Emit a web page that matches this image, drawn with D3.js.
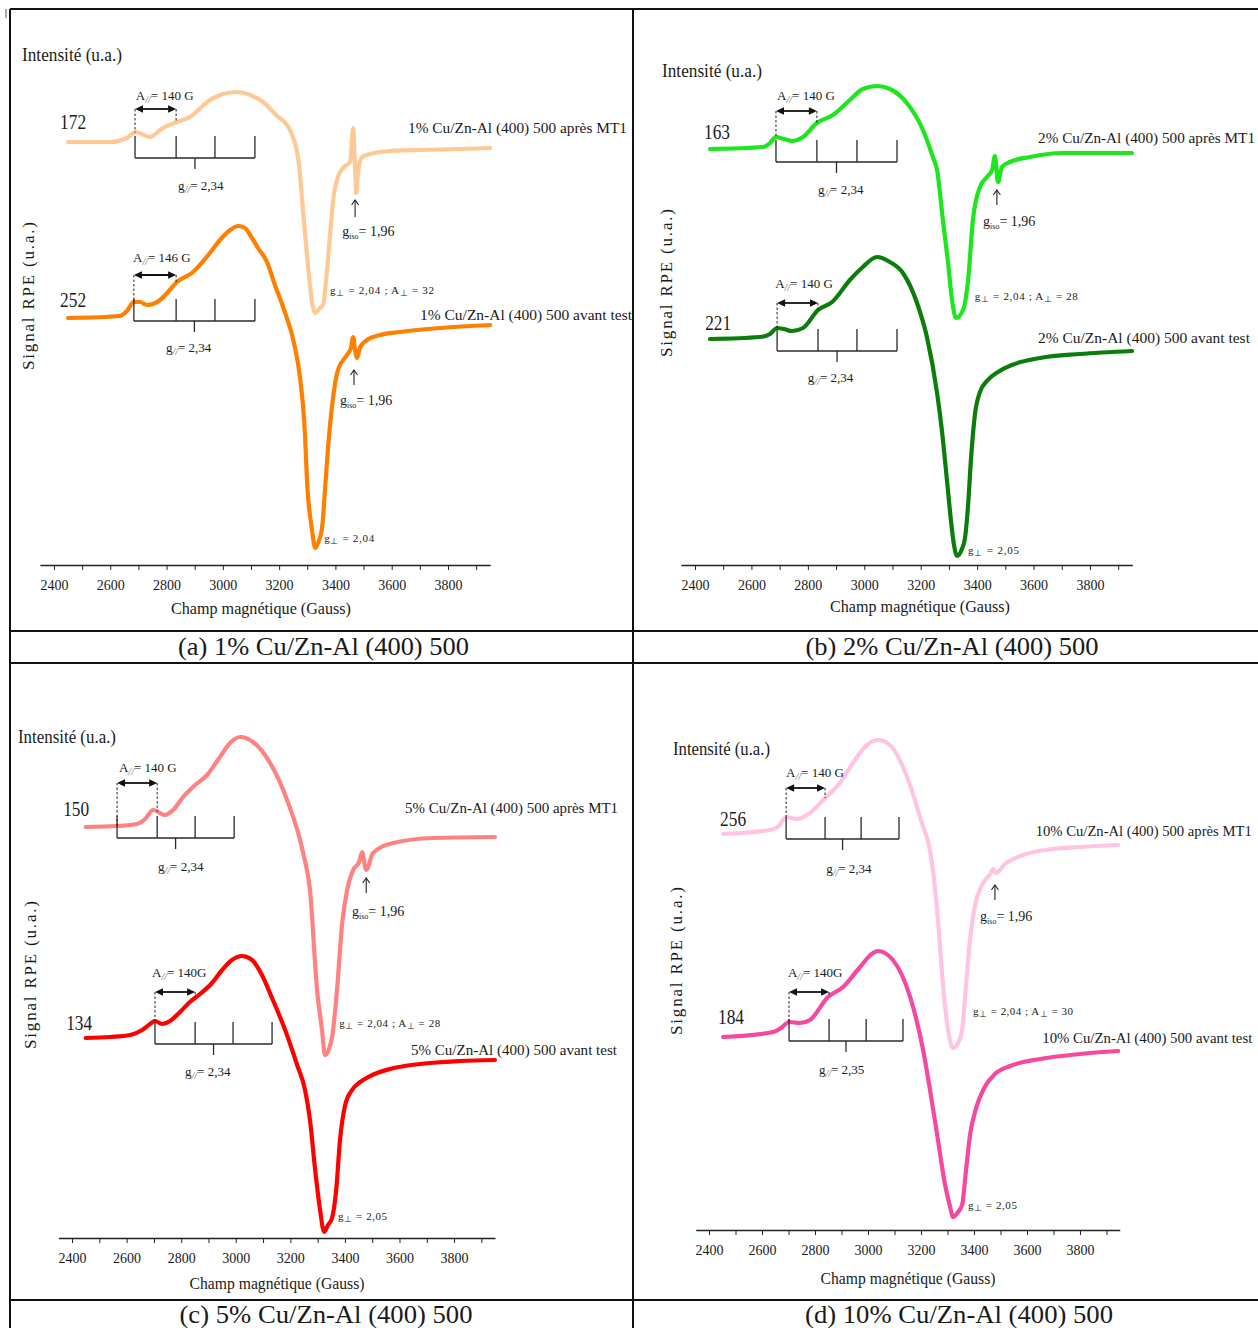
<!DOCTYPE html>
<html><head><meta charset="utf-8">
<script src="https://cdn.jsdelivr.net/npm/d3@7/dist/d3.min.js"></script>
<style>
html,body{margin:0;padding:0;background:#fff}
text{font-family:"Liberation Serif","Times New Roman",Times,serif;fill:#1a1a1a}
</style></head><body>
<svg id="chart" width="1258" height="1328" xmlns="http://www.w3.org/2000/svg"></svg>
<script>
// ================= DATA =================
const fieldTicks = [2400,2500,2600,2700,2800,2900,3000,3100,3200,3300,3400,3500,3600,3700,3800,3900];
const fieldTickLabels = ["2400","2600","2800","3000","3200","3400","3600","3800"];
const xTitle = "Champ magnétique (Gauss)";
const yTitle = "Signal RPE (u.a.)";
const intensityTitle = "Intensité (u.a.)";
const panelTitles = ["(a) 1% Cu/Zn-Al (400) 500","(b) 2% Cu/Zn-Al (400) 500","(c) 5% Cu/Zn-Al (400) 500","(d) 10% Cu/Zn-Al (400) 500"];

const seriesNames = [
  "1% Cu/Zn-Al (400) 500 après MT1","1% Cu/Zn-Al (400) 500 avant test",
  "2% Cu/Zn-Al (400) 500 après MT1","2% Cu/Zn-Al (400) 500 avant test",
  "5% Cu/Zn-Al (400) 500 après MT1","5% Cu/Zn-Al (400) 500 avant test",
  "10% Cu/Zn-Al (400) 500 après MT1","10% Cu/Zn-Al (400) 500 avant test"];
const sampleNumbers = ["172","252","163","221","150","134","256","184"];
const aParText = ["= 140 G","= 146 G","= 140 G","= 140 G","= 140 G","= 140G","= 140 G","= 140G"];
const gParText = ["= 2,34","= 2,34","= 2,34","= 2,34","= 2,34","= 2,34","= 2,34","= 2,35"];
const gIsoText = ["= 1,96","= 1,96","= 1,96",null,"= 1,96",null,"= 1,96",null];
const gPerpText = ["g⊥ = 2,04 ; A⊥ = 32","g⊥ = 2,04","g⊥ = 2,04 ; A⊥ = 28","g⊥ = 2,05",
                   "g⊥ = 2,04 ; A⊥ = 28","g⊥ = 2,05","g⊥ = 2,04 ; A⊥ = 30","g⊥ = 2,05"];

// spectra: [field (G), signal (u.a.)]
const curveA_apres = [[2450,423],[2599,423],[2659,427],[2691,433],[2741,428],[2787,437],[2837,443],[2883,448],[2954,465],[3001,471],[3050,473],[3097,470],[3143,463],[3193,449],[3228,440],[3249,428],[3267,408],[3292,332],[3320,258],[3328,252],[3345,257],[3356,260],[3367,285],[3381,330],[3392,365],[3409,388],[3427,397],[3452,403],[3463,437],[3470,395],[3474,372],[3480,392],[3495,408],[3523,411],[3594,414],[3701,415],[3843,416],[3950,417]];
const curveA_avant = [[2450,247],[2635,249],[2659,254],[2684,263],[2706,263],[2731,260],[2777,265],[2805,273],[2837,283],[2890,292],[2954,312],[2990,325],[3026,335],[3054,339],[3079,337],[3097,330],[3125,317],[3157,303],[3185,280],[3214,258],[3256,218],[3274,188],[3292,130],[3299,85],[3317,35],[3328,17],[3338,22],[3353,38],[3363,75],[3374,118],[3392,168],[3409,195],[3441,210],[3455,217],[3463,228],[3470,215],[3477,207],[3488,218],[3512,225],[3559,230],[3630,233],[3772,237],[3950,240]];
const curveB_apres = [[2453,416],[2641,418],[2666,422],[2687,428],[2715,426],[2744,424],[2783,428],[2832,442],[2889,450],[2949,465],[2995,476],[3045,479],[3091,476],[3151,462],[3208,435],[3243,408],[3258,395],[3279,344],[3297,302],[3311,265],[3325,247],[3350,255],[3368,285],[3385,345],[3410,378],[3435,388],[3453,395],[3463,409],[3474,383],[3488,398],[3516,403],[3587,408],[3704,412],[3949,412]];
const curveB_avant = [[2453,226],[2630,228],[2666,231],[2691,237],[2715,236],[2744,234],[2783,237],[2836,255],[2886,263],[2949,285],[2995,298],[3045,308],[3091,303],[3137,292],[3187,262],[3222,228],[3258,172],[3275,135],[3293,85],[3307,45],[3318,20],[3329,9],[3346,16],[3357,27],[3368,60],[3378,105],[3392,150],[3410,173],[3438,185],[3474,193],[3523,200],[3623,207],[3764,211],[3949,214]];
const curveC_apres = [[2450,411],[2565,412],[2638,414],[2668,419],[2697,428],[2741,423],[2770,428],[2807,441],[2851,453],[2895,463],[2942,481],[2979,495],[3016,501],[3063,496],[3126,475],[3188,438],[3247,385],[3272,348],[3298,248],[3316,208],[3327,183],[3353,201],[3371,248],[3390,315],[3408,348],[3430,368],[3452,376],[3463,386],[3478,368],[3503,385],[3576,395],[3723,400],[3950,401]];
const curveC_avant = [[2450,200],[2539,201],[2613,203],[2657,208],[2686,214],[2704,217],[2730,214],[2759,217],[2796,226],[2832,236],[2869,244],[2913,255],[2950,268],[2986,278],[3023,282],[3060,278],[3096,263],[3133,240],[3181,208],[3225,173],[3254,148],[3272,118],[3291,68],[3309,28],[3324,6],[3338,13],[3353,20],[3368,48],[3382,98],[3401,133],[3426,148],[3456,156],[3500,163],[3565,169],[3675,174],[3822,177],[3950,178]];
const curveD_apres = [[2453,396],[2630,400],[2664,404],[2691,413],[2732,411],[2781,417],[2838,432],[2894,447],[2943,467],[2996,485],[3038,490],[3083,485],[3132,463],[3196,413],[3245,360],[3264,310],[3283,245],[3302,200],[3321,182],[3340,187],[3355,200],[3370,245],[3385,290],[3404,325],[3430,345],[3461,356],[3472,361],[3483,357],[3517,366],[3574,374],[3668,380],[3800,383],[3944,385]];
const curveD_avant = [[2453,193],[2642,198],[2672,202],[2702,208],[2743,207],[2781,210],[2849,233],[2906,243],[2970,263],[3019,277],[3038,279],[3094,270],[3159,233],[3208,180],[3234,140],[3264,90],[3291,45],[3310,23],[3321,13],[3340,18],[3355,25],[3370,60],[3385,95],[3408,122],[3438,142],[3479,156],[3536,164],[3649,171],[3800,176],[3944,179]];

const curves = [curveA_apres,curveA_avant,curveB_apres,curveB_avant,curveC_apres,curveC_avant,curveD_apres,curveD_avant];

// annotation anchors in data units (field G, signal u.a.)
const annotationAnchors = [
  {num:[2468,436], hf:[2691,465], arrow:456, ticks:[2688,2834,2972,3114], bracket:407, gpar:[2841,375], iso:[3470,348,365,3424,329], perp:[3381,271], label:[4436,432]},
  {num:[2468,258], hf:[2681,303], arrow:290, ticks:[2684,2834,2972,3114], bracket:244, gpar:[2798,213], iso:[3466,180,195,3416,160], perp:[3360,23], label:[4454,245]},
  {num:[2478,426], hf:[2691,465], arrow:454, ticks:[2687,2832,2974,3116], bracket:403, gpar:[2836,371], iso:[3470,360,375,3421,339], perp:[3392,265], label:[4385,422]},
  {num:[2482,235], hf:[2684,277], arrow:262, ticks:[2691,2836,2974,3116], bracket:214, gpar:[2800,183], iso:null, perp:[3368,11], label:[4367,222]},
  {num:[2415,422], hf:[2572,466], arrow:455, ticks:[2565,2712,2851,2994], bracket:400, gpar:[2715,367], iso:[3478,345,360,3426,322], perp:[3379,211], label:[4401,425]},
  {num:[2426,208], hf:[2693,261], arrow:246, ticks:[2704,2851,2990,3133], bracket:194, gpar:[2814,162], iso:null, perp:[3375,18], label:[4397,183]},
  {num:[2491,404], hf:[2691,453], arrow:442, ticks:[2691,2838,2974,3117], bracket:391, gpar:[2842,357], iso:[3479,330,345,3423,309], perp:[3396,215], label:[4448,394]},
  {num:[2483,206], hf:[2698,253], arrow:238, ticks:[2702,2853,2993,3132], bracket:189, gpar:[2815,156], iso:null, perp:[3377,21], label:[4450,187]}
];

// ================= STYLE / LAYOUT =================
const colors = ["#FFC995","#FF8000","#1EE61E","#0A7D0A","#FF8282","#FF0000","#FFC4E2","#F7489F"];
const labelWidths = [219,212,217,212,213,206,216,210];
const labelSizes = [15.2,15.2,15.2,15.2,15.2,15.2,14.5,14.8];
const perpWidths = [104,50,103,51,101,49,100,49];
const layout = [
  {range:[39.9,490.2],  axisY:565,  intensity:[22,61,100],  ylab:[34,296],  xlab:[261,614,180],  cap:[323.5,655,291]},
  {range:[680.9,1132.3],axisY:565,  intensity:[662,77,100], ylab:[672,283], xlab:[920,612,180],  cap:[952,655,293]},
  {range:[58.4,495.0],  axisY:1238, intensity:[18,743,98],  ylab:[36,975],  xlab:[277,1289,175], cap:[326,1323,293]},
  {range:[695.75,1119.75],axisY:1230,intensity:[673,755,97],ylab:[682,961], xlab:[908,1284,175], cap:[959,1323,308]}
];

const svg = d3.select("#chart");
const ink = "#1a1a1a";

// frame
const frame = svg.append("g").attr("stroke","#111").attr("stroke-width",2);
[[10,9,1258,9],[10,631,1258,631],[10,663,1258,663],[10,1300,1258,1300],[10,9,10,1328],[633,9,633,1328]]
  .forEach(d=>frame.append("line").attr("x1",d[0]).attr("y1",d[1]).attr("x2",d[2]).attr("y2",d[3]));
svg.append("line").attr("x1",6).attr("y1",9).attr("x2",6).attr("y2",18).attr("stroke","#555").attr("stroke-width",1);

function interp(data, g){
  for (let i=0;i<data.length-1;i++){
    if (g>=data[i][0] && g<=data[i+1][0]){
      const t=(g-data[i][0])/(data[i+1][0]-data[i][0]);
      return data[i][1]+t*(data[i+1][1]-data[i][1]);
    }
  }
  return data[0][1];
}

function subText(sel, x, y, size, main, sub, rest, subSize){
  const t = sel.append("text").attr("x",x).attr("y",y).attr("font-size",size);
  t.append("tspan").text(main);
  t.append("tspan").attr("dy",3).attr("font-size",subSize||size*0.7).attr("font-style","italic").attr("fill","#666").text(sub);
  t.append("tspan").attr("dy",-3).text(rest);
  return t;
}

layout.forEach((L,p)=>{
  const g = svg.append("g");
  const x = d3.scaleLinear().domain([2350,3950]).range(L.range);
  const y = d3.scaleLinear().domain([0,500]).range([L.axisY, L.axisY-500]);

  // axis
  const ax = g.append("g").attr("transform",`translate(0,${L.axisY})`)
    .call(d3.axisBottom(x).tickValues(fieldTicks).tickSize(5).tickSizeOuter(0).tickPadding(10)
      .tickFormat(v=> fieldTickLabels.includes(String(v)) ? String(v) : ""));
  ax.attr("font-size",14);
  ax.select(".domain").attr("stroke","#222").attr("stroke-width",1.5);
  ax.selectAll(".tick line").attr("stroke","#222").attr("stroke-width",1);
  ax.selectAll(".tick text").attr("fill",ink);

  // titles
  g.append("text").attr("x",L.xlab[0]).attr("y",L.xlab[1]).attr("text-anchor","middle")
    .attr("font-size",17).attr("textLength",L.xlab[2]).attr("lengthAdjust","spacingAndGlyphs").text(xTitle);
  g.append("text").attr("transform",`translate(${L.ylab[0]},${L.ylab[1]}) rotate(-90)`).attr("text-anchor","middle")
    .attr("font-size",17).attr("textLength",148).attr("lengthAdjust","spacing").text(yTitle);
  g.append("text").attr("x",L.intensity[0]).attr("y",L.intensity[1]).attr("font-size",18)
    .attr("textLength",L.intensity[2]).attr("lengthAdjust","spacingAndGlyphs").text(intensityTitle);
  g.append("text").attr("x",L.cap[0]).attr("y",L.cap[1]).attr("text-anchor","middle").attr("font-size",25)
    .attr("textLength",L.cap[2]).attr("lengthAdjust","spacingAndGlyphs").attr("fill","#111").text(panelTitles[p]);

  const line = d3.line().x(d=>x(d[0])).y(d=>y(d[1])).curve(d3.curveMonotoneX);

  [2*p, 2*p+1].forEach(i=>{
    g.append("path").datum(curves[i]).attr("d",line).attr("fill","none")
      .attr("stroke",colors[i]).attr("stroke-width",4.2).attr("stroke-linejoin","round").attr("stroke-linecap","round");
  });

  [2*p, 2*p+1].forEach(i=>{
    const a = annotationAnchors[i], data = curves[i];
    const an = g.append("g");
    // sample number
    an.append("text").attr("x",x(a.num[0])).attr("y",y(a.num[1])).attr("text-anchor","middle")
      .attr("font-size",20).attr("textLength",26).attr("lengthAdjust","spacingAndGlyphs").text(sampleNumbers[i]);
    // A// label
    subText(an, x(a.hf[0]), y(a.hf[1]), 13, "A", "//", aParText[i], 10);
    // double arrow
    const ay = y(a.arrow), x0 = x(a.ticks[0]), x1 = x(a.ticks[1]);
    an.append("line").attr("x1",x0+5).attr("x2",x1-5).attr("y1",ay).attr("y2",ay).attr("stroke","#111").attr("stroke-width",1.8);
    an.append("path").attr("d",`M${x0},${ay}L${x0+8},${ay-3.8}L${x0+8},${ay+3.8}Z`).attr("fill","#111");
    an.append("path").attr("d",`M${x1},${ay}L${x1-8},${ay-3.8}L${x1-8},${ay+3.8}Z`).attr("fill","#111");
    // dashed guides to the curve
    [a.ticks[0],a.ticks[1]].forEach(gx=>{
      an.append("line").attr("x1",x(gx)).attr("x2",x(gx)).attr("y1",ay).attr("y2",y(interp(data,gx)))
        .attr("stroke","#222").attr("stroke-width",1).attr("stroke-dasharray","2.5,2");
    });
    // hyperfine bracket
    const by = y(a.bracket);
    const br = an.append("g").attr("stroke","#2a2a2a").attr("stroke-width",1.3);
    br.append("line").attr("x1",x(a.ticks[0])).attr("x2",x(a.ticks[3])).attr("y1",by).attr("y2",by);
    a.ticks.forEach(t=>br.append("line").attr("x1",x(t)).attr("x2",x(t)).attr("y1",by-22).attr("y2",by));
    const cx = x((a.ticks[0]+a.ticks[3])/2);
    br.append("line").attr("x1",cx).attr("x2",cx).attr("y1",by).attr("y2",by+11);
    subText(an, x(a.gpar[0]), y(a.gpar[1]), 13, "g", "//", gParText[i], 10);
    // g iso arrow
    if (a.iso){
      const ix = x(a.iso[0]), yb = y(a.iso[1]), yt = y(a.iso[2]);
      an.append("line").attr("x1",ix).attr("x2",ix).attr("y1",yb).attr("y2",yt).attr("stroke","#222").attr("stroke-width",1.1);
      an.append("path").attr("d",`M${ix-3.5},${yt+5}L${ix},${yt}L${ix+3.5},${yt+5}`).attr("fill","none").attr("stroke","#222").attr("stroke-width",1.1);
      const t = an.append("text").attr("x",x(a.iso[3])).attr("y",y(a.iso[4])).attr("font-size",14);
      t.append("tspan").text("g");
      t.append("tspan").attr("dy",3).attr("font-size",8).text("iso");
      t.append("tspan").attr("dy",-3).text(gIsoText[i]);
    }
    // g perpendicular text
    const pt = an.append("text").attr("x",x(a.perp[0])).attr("y",y(a.perp[1])).attr("font-size",11)
      .attr("textLength",perpWidths[i]).attr("lengthAdjust","spacing").attr("fill","#333");
    const parts = gPerpText[i].split("⊥");
    parts.forEach((s,k)=>{
      if (k>0){ pt.append("tspan").attr("dy",2).attr("font-size",9).text("⊥"); pt.append("tspan").attr("dy",-2).text(s); }
      else pt.append("tspan").text(s);
    });
    // series label
    an.append("text").attr("x",x(a.label[0])).attr("y",y(a.label[1])).attr("text-anchor","end")
      .attr("font-size",labelSizes[i]).attr("textLength",labelWidths[i]).attr("lengthAdjust","spacingAndGlyphs").text(seriesNames[i]);
  });
});
</script>
</body></html>
